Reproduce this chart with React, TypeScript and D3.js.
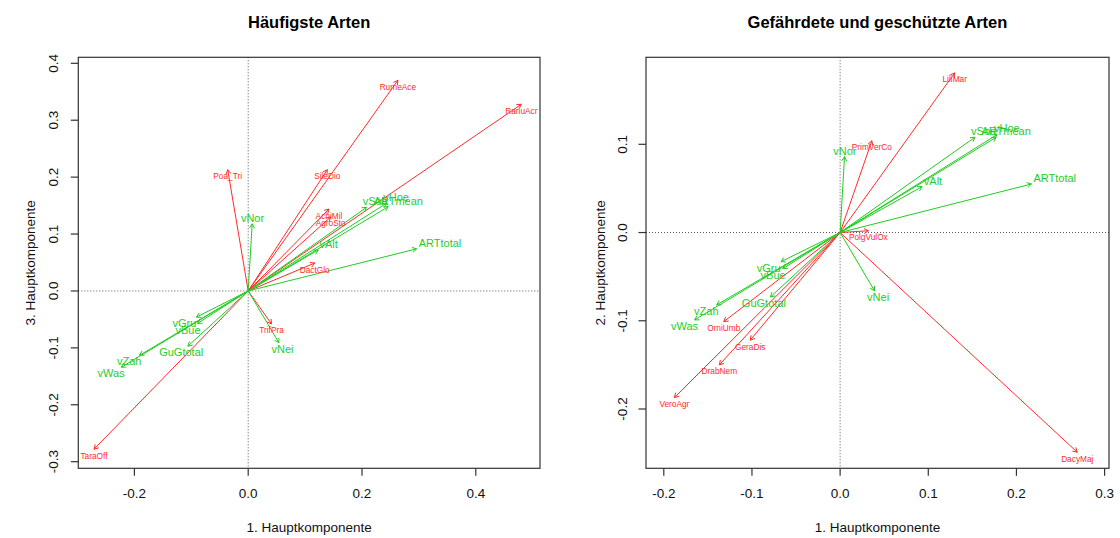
import React, { useEffect, useRef } from "react";
import * as d3 from "d3";

// ---------- Data: left panel (PC1 vs PC3) ----------
const leftSpeciesNames = ["RanuAcr", "RumeAce", "Poa_Tri", "SileDio", "AchiMil", "AgroSto", "DactGlo", "TrifPra", "TaraOff"];
const leftSpeciesPC1 = [0.48, 0.263, -0.036, 0.139, 0.142, 0.145, 0.117, 0.041, -0.271];
const leftSpeciesPC3 = [0.328, 0.37, 0.213, 0.213, 0.144, 0.13, 0.049, -0.058, -0.278];

const leftEnvNames = ["vNor", "ARTtotal", "vAlt", "vSon", "vHoe", "ARTmean", "vGru", "vBue", "vZah", "vWas", "GuGtotal", "vNei"];
const leftEnvPC1 = [0.007, 0.296, 0.123, 0.208, 0.243, 0.246, -0.091, -0.089, -0.191, -0.223, -0.106, 0.054];
const leftEnvPC3 = [0.118, 0.074, 0.072, 0.147, 0.154, 0.148, -0.046, -0.057, -0.113, -0.134, -0.097, -0.091];

// ---------- Data: right panel (PC1 vs PC2) ----------
const rightSpeciesNames = ["LiliMar", "PrimVerCo", "PolgVulOx", "DacyMaj", "VeroAgr", "DrabNem", "GeraDis", "OrniUmb"];
const rightSpeciesPC1 = [0.13, 0.036, 0.032, 0.269, -0.188, -0.137, -0.102, -0.132];
const rightSpeciesPC2 = [0.181, 0.104, 0.002, -0.249, -0.187, -0.15, -0.122, -0.101];

const rightEnvNames = ["vNor", "ARTtotal", "vAlt", "vSon", "vHoe", "ARTmean", "vNei", "vGru", "vBue", "vZah", "vWas", "GuGtotal"];
const rightEnvPC1 = [0.005, 0.217, 0.093, 0.153, 0.178, 0.177, 0.039, -0.067, -0.065, -0.14, -0.165, -0.079];
const rightEnvPC2 = [0.086, 0.055, 0.052, 0.108, 0.111, 0.108, -0.066, -0.033, -0.041, -0.082, -0.099, -0.073];

// ---------- Ticks / titles ----------
const leftXTicks = [-0.2, 0.0, 0.2, 0.4];
const leftYTicks = [-0.3, -0.2, -0.1, 0.0, 0.1, 0.2, 0.3, 0.4];
const rightXTicks = [-0.2, -0.1, 0.0, 0.1, 0.2, 0.3];
const rightYTicks = [-0.2, -0.1, 0.0, 0.1];
const titles = ["Häufigste Arten", "Gefährdete und geschützte Arten"];
const xTitles = ["1. Hauptkomponente", "1. Hauptkomponente"];
const yTitles = ["3. Hauptkomponente", "2. Hauptkomponente"];

const FONT = '"Liberation Sans", Arial, Helvetica, sans-serif';
const RED = "#ff2a2a";
const GREEN = "#1fcd1f";

type Panel = {
  id: string;
  box: [number, number, number, number];
  xDom: [number, number];
  xRange: [number, number];
  yDom: [number, number];
  yRange: [number, number];
  xTicks: number[];
  yTicks: number[];
  title: string;
  xTitle: string;
  yTitle: string;
  yTitleX: number;
  yTickX: number;
  sp: { name: string; x: number; y: number }[];
  env: { name: string; x: number; y: number }[];
};

function drawPanel(svg: any, p: Panel) {
  const [bx0, bx1, by0, by1] = p.box;
  const x = d3.scaleLinear().domain(p.xDom).range(p.xRange);
  const y = d3.scaleLinear().domain(p.yDom).range(p.yRange);
  const ox = x(0);
  const oy = y(0);

  svg
    .append("clipPath")
    .attr("id", "clip-" + p.id)
    .append("rect")
    .attr("x", bx0)
    .attr("y", by0)
    .attr("width", bx1 - bx0)
    .attr("height", by1 - by0);

  const g = svg.append("g").attr("clip-path", `url(#clip-${p.id})`);

  // dotted zero lines
  g.append("line")
    .attr("x1", bx0).attr("x2", bx1).attr("y1", oy).attr("y2", oy)
    .attr("stroke", "#555").attr("stroke-width", 1).attr("stroke-dasharray", "1 2");
  g.append("line")
    .attr("x1", ox).attr("x2", ox).attr("y1", by0).attr("y2", by1)
    .attr("stroke", "#555").attr("stroke-width", 1).attr("stroke-dasharray", "1 2");

  const drawArrow = (tx: number, ty: number, col: string) => {
    g.append("line")
      .attr("x1", ox).attr("y1", oy).attr("x2", tx).attr("y2", ty)
      .attr("stroke", col).attr("stroke-width", 1);
    const ang = Math.atan2(ty - oy, tx - ox);
    const L = 5;
    const a = Math.PI / 6;
    const path = d3.path();
    path.moveTo(tx - L * Math.cos(ang - a), ty - L * Math.sin(ang - a));
    path.lineTo(tx, ty);
    path.lineTo(tx - L * Math.cos(ang + a), ty - L * Math.sin(ang + a));
    g.append("path").attr("d", path.toString()).attr("fill", "none").attr("stroke", col).attr("stroke-width", 1);
  };

  // species (red)
  p.sp.forEach((d) => drawArrow(x(d.x), y(d.y), RED));
  // env (green)
  p.env.forEach((d) => drawArrow(x(d.x), y(d.y), GREEN));

  // species labels
  p.sp.forEach((d) => {
    g.append("text")
      .attr("x", x(d.x))
      .attr("y", y(d.y) + 6.5)
      .attr("text-anchor", "middle")
      .attr("dominant-baseline", "central")
      .attr("font-family", FONT)
      .attr("font-size", 8.3)
      .attr("fill", RED)
      .text(d.name);
  });

  // env labels, placed like vegan's ordiArrowTextXY
  const fs = 11;
  p.env.forEach((d) => {
    const t = g
      .append("text")
      .attr("text-anchor", "middle")
      .attr("dominant-baseline", "central")
      .attr("font-family", FONT)
      .attr("font-size", fs)
      .attr("fill", GREEN)
      .text(d.name);
    const node = t.node() as SVGTextElement;
    const w = node.getComputedTextLength();
    const h = fs * 0.74;
    const tx = x(d.x);
    const ty = y(d.y);
    const dx = tx - ox;
    const dy = oy - ty; // up positive
    const b = dy / dx;
    let offX = Math.sign(dx) * (w / 2 + h / 4);
    let offY = 0.75 * h * Math.sign(dy);
    const move = offY / b;
    if (isFinite(move) && Math.abs(move) <= Math.abs(offX)) offX = move;
    else offY = b * offX;
    t.attr("x", tx + offX).attr("y", ty - offY);
  });

  // box
  svg.append("rect")
    .attr("x", bx0).attr("y", by0).attr("width", bx1 - bx0).attr("height", by1 - by0)
    .attr("fill", "none").attr("stroke", "#333").attr("stroke-width", 1.2);

  // x axis
  p.xTicks.forEach((v) => {
    svg.append("line")
      .attr("x1", x(v)).attr("x2", x(v)).attr("y1", by1).attr("y2", by1 + 7.5)
      .attr("stroke", "#333").attr("stroke-width", 1.2);
    svg.append("text")
      .attr("x", x(v)).attr("y", by1 + 25)
      .attr("text-anchor", "middle").attr("dominant-baseline", "central")
      .attr("font-family", FONT).attr("font-size", 13.5).attr("fill", "#111")
      .text(v.toFixed(1));
  });
  // y axis
  p.yTicks.forEach((v) => {
    svg.append("line")
      .attr("x1", bx0 - 7.5).attr("x2", bx0).attr("y1", y(v)).attr("y2", y(v))
      .attr("stroke", "#333").attr("stroke-width", 1.2);
    svg.append("text")
      .attr("transform", `translate(${p.yTickX},${y(v)}) rotate(-90)`)
      .attr("text-anchor", "middle").attr("dominant-baseline", "central")
      .attr("font-family", FONT).attr("font-size", 13.5).attr("fill", "#111")
      .text(v.toFixed(1));
  });

  const cx = (bx0 + bx1) / 2;
  const cy = (by0 + by1) / 2;
  svg.append("text")
    .attr("x", cx).attr("y", 22)
    .attr("text-anchor", "middle").attr("dominant-baseline", "central")
    .attr("font-family", FONT).attr("font-size", 16.5).attr("font-weight", "bold").attr("fill", "#000")
    .text(p.title);
  svg.append("text")
    .attr("x", cx).attr("y", 527)
    .attr("text-anchor", "middle").attr("dominant-baseline", "central")
    .attr("font-family", FONT).attr("font-size", 13.5).attr("fill", "#111")
    .text(p.xTitle);
  svg.append("text")
    .attr("transform", `translate(${p.yTitleX},${cy}) rotate(-90)`)
    .attr("text-anchor", "middle").attr("dominant-baseline", "central")
    .attr("font-family", FONT).attr("font-size", 13.5).attr("fill", "#111")
    .text(p.yTitle);
}

export default function App() {
  const ref = useRef<SVGSVGElement>(null);
  useEffect(() => {
    const svg = d3.select(ref.current);
    svg.selectAll("*").remove();
    svg.append("rect").attr("width", 1120).attr("height", 538).attr("fill", "#fff");

    const left: Panel = {
      id: "left",
      box: [78.3, 540, 57.3, 468.3],
      xDom: [-0.2, 0.4],
      xRange: [134.4, 475.8],
      yDom: [-0.3, 0.4],
      yRange: [461.7, 63.3],
      xTicks: leftXTicks,
      yTicks: leftYTicks,
      title: titles[0],
      xTitle: xTitles[0],
      yTitle: yTitles[0],
      yTitleX: 30,
      yTickX: 53,
      sp: leftSpeciesNames.map((n, i) => ({ name: n, x: leftSpeciesPC1[i], y: leftSpeciesPC3[i] })),
      env: leftEnvNames.map((n, i) => ({ name: n, x: leftEnvPC1[i], y: leftEnvPC3[i] })),
    };
    const right: Panel = {
      id: "right",
      box: [646, 1109, 57.3, 468.3],
      xDom: [-0.2, 0.3],
      xRange: [663.8, 1104.6],
      yDom: [-0.2, 0.1],
      yRange: [409, 144.3],
      xTicks: rightXTicks,
      yTicks: rightYTicks,
      title: titles[1],
      xTitle: xTitles[1],
      yTitle: yTitles[1],
      yTitleX: 600,
      yTickX: 622,
      sp: rightSpeciesNames.map((n, i) => ({ name: n, x: rightSpeciesPC1[i], y: rightSpeciesPC2[i] })),
      env: rightEnvNames.map((n, i) => ({ name: n, x: rightEnvPC1[i], y: rightEnvPC2[i] })),
    };
    drawPanel(svg, left);
    drawPanel(svg, right);
  }, []);

  return (
    <svg
      ref={ref}
      width={1120}
      height={538}
      style={{ position: "absolute", left: 0, top: 0, display: "block" }}
    />
  );
}
